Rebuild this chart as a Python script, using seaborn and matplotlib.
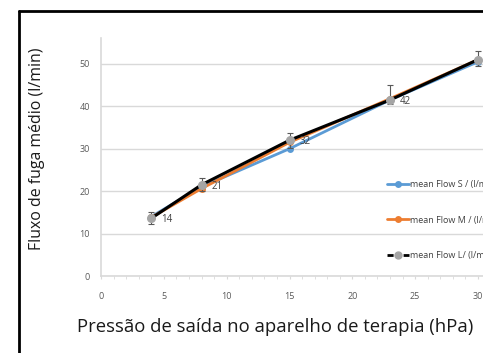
import pandas as pd
import matplotlib.pyplot as plt
import seaborn as sns
from matplotlib.lines import Line2D
from matplotlib.ticker import MultipleLocator

# Data
pressure = [4, 8, 15, 23, 30]
flow_s = [14.0, 21.0, 30.0, 41.5, 50.5]
flow_m = [13.8, 20.6, 31.5, 41.8, 51.0]
flow_l = [13.6, 21.5, 32.0, 41.5, 51.0]
err_l_low = [1.3, 1.5, 1.8, 1.0, 1.5]
err_l_high = [1.5, 1.5, 1.8, 3.5, 2.0]
point_labels = ["14", "21", "32", "42", "51"]
series_names = ["mean Flow S / (l/min)", "mean Flow M / (l/min)", "mean Flow L/ (l/min)"]

df = pd.concat([
    pd.DataFrame({"pressure": pressure, "flow": flow_s, "series": series_names[0]}),
    pd.DataFrame({"pressure": pressure, "flow": flow_m, "series": series_names[1]}),
    pd.DataFrame({"pressure": pressure, "flow": flow_l, "series": series_names[2]}),
], ignore_index=True)

sns.set_style("white")
plt.rcParams['font.family'] = ['Open Sans', 'DejaVu Sans']

fig = plt.figure(figsize=(4.83, 3.53), dpi=100)
ax = fig.add_axes([101 / 483, 1 - 276 / 353, 382 / 483, 238 / 353])

palette = {series_names[0]: "#5B9BD5", series_names[1]: "#ED7D31", series_names[2]: "#000000"}
sns.lineplot(data=df[df.series != series_names[2]], x="pressure", y="flow", hue="series",
             palette=palette, marker="o", markersize=5, markeredgewidth=0, linewidth=2,
             ax=ax, legend=False)
sns.lineplot(data=df[df.series == series_names[2]], x="pressure", y="flow", color="black",
             linewidth=2.2, ax=ax, legend=False)
ax.errorbar(pressure, flow_l, yerr=[err_l_low, err_l_high], fmt="o", color="#A5A5A5",
            ecolor="#595959", elinewidth=0.8, capsize=2, capthick=0.8, markersize=5.5, zorder=5)

for x, y, lab in zip(pressure[:4], flow_l[:4], point_labels[:4]):
    ax.annotate(lab, (x, y), xytext=(7, -3), textcoords="offset points", fontsize=7,
                color="#404040")

ax.set_xlim(0, 30 * 382 / 377)
ax.set_ylim(0, 56.1)
ax.set_xticks([0, 5, 10, 15, 20, 25, 30])
ax.set_yticks([0, 10, 20, 30, 40, 50])
ax.xaxis.set_minor_locator(MultipleLocator(1))
ax.tick_params(axis="both", labelsize=6.5, labelcolor="#595959")
ax.tick_params(axis="x", which="both", direction="out", length=2.5, color="#D9D9D9", bottom=True)
ax.tick_params(axis="y", length=0, pad=8)
ax.tick_params(axis="x", pad=9)
ax.yaxis.grid(True, color="#D9D9D9", linewidth=1)
for s in ["top", "right"]:
    ax.spines[s].set_visible(False)
for s in ["left", "bottom"]:
    ax.spines[s].set_color("#D9D9D9")
    ax.spines[s].set_linewidth(1.2)

ax.set_xlabel("")
ax.set_ylabel("")
fig.text(275 / 483, 1 - 327 / 353, "Pressão de saída no aparelho de terapia (hPa)",
         ha="center", va="center", fontsize=13.3, color="#1a1a1a")
fig.text(37 / 483, 1 - 149 / 353, "Fluxo de fuga médio (l/min)", rotation=90,
         ha="center", va="center", fontsize=11.4, color="#1a1a1a")

handles = [
    Line2D([], [], color="#5B9BD5", marker="o", markersize=5, markeredgewidth=0, linewidth=2),
    Line2D([], [], color="#ED7D31", marker="o", markersize=5, markeredgewidth=0, linewidth=2),
    Line2D([], [], color="black", marker="o", markerfacecolor="#A5A5A5", markeredgecolor="#A5A5A5",
           markersize=5, linewidth=2, linestyle=(0, (2.2, 3.6))),
]
ax.legend(handles, series_names, loc="upper left", bbox_to_anchor=(382 / 483, 1 - 175.5 / 353),
          bbox_transform=fig.transFigure, frameon=False, fontsize=6.5, labelspacing=2.95,
          handlelength=2.45, handletextpad=0.1, borderpad=0, labelcolor="#404040")

# black frame around the chart (left and top edges visible)
fig.add_artist(Line2D([19 / 483, 19 / 483], [0, 1 - 11 / 353], color="black", linewidth=2,
                      transform=fig.transFigure))
fig.add_artist(Line2D([19 / 483, 1], [1 - 11 / 353, 1 - 11 / 353], color="black", linewidth=2,
                      transform=fig.transFigure))

fig.savefig("out.png", dpi=100)
